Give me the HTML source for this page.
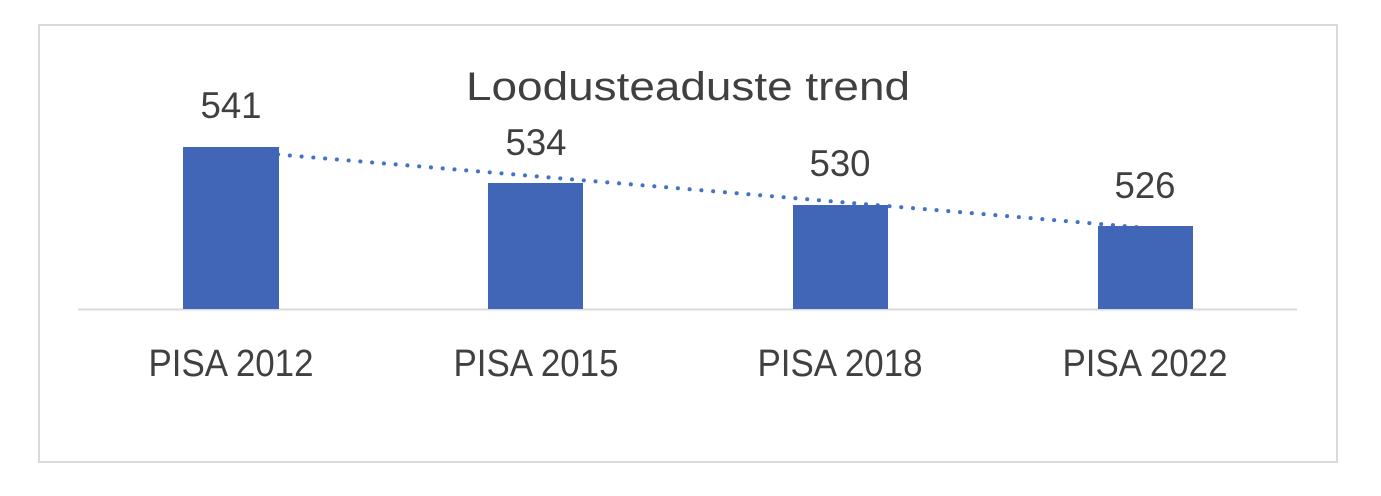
<!DOCTYPE html>
<html><head><meta charset="utf-8"><style>
html,body{margin:0;padding:0;background:#fff;}
svg{display:block;}
text{font-family:"Liberation Sans",sans-serif;fill:#404040;}
</style></head><body>
<svg width="1381" height="496" viewBox="0 0 1381 496">
<rect x="39" y="25" width="1298" height="437" fill="#fff" stroke="#d9d9d9" stroke-width="2"/>
<text x="688" y="100" font-size="40" text-anchor="middle" textLength="444" lengthAdjust="spacingAndGlyphs">Loodusteaduste trend</text>
<line x1="231" y1="150.5" x2="1145" y2="227.8" stroke="#4472c4" stroke-width="4" stroke-dasharray="0.1 11.7" stroke-linecap="round"/>
<line x1="78" y1="309.5" x2="1297" y2="309.5" stroke="#d9d9d9" stroke-width="2"/>
<g fill="#4165b7">
<rect x="183" y="147" width="96" height="162"/>
<rect x="488" y="183" width="95" height="126"/>
<rect x="793" y="205" width="95" height="104"/>
<rect x="1098" y="226" width="95" height="83"/>
</g>
<g font-size="37" text-anchor="middle">
<text x="231" y="118" textLength="61" lengthAdjust="spacingAndGlyphs">541</text>
<text x="536" y="155" textLength="61" lengthAdjust="spacingAndGlyphs">534</text>
<text x="840" y="176" textLength="61" lengthAdjust="spacingAndGlyphs">530</text>
<text x="1145" y="198" textLength="61" lengthAdjust="spacingAndGlyphs">526</text>
</g>
<g font-size="38" text-anchor="middle">
<text x="231" y="376" textLength="165" lengthAdjust="spacingAndGlyphs">PISA 2012</text>
<text x="536" y="376" textLength="165" lengthAdjust="spacingAndGlyphs">PISA 2015</text>
<text x="840" y="376" textLength="165" lengthAdjust="spacingAndGlyphs">PISA 2018</text>
<text x="1145" y="376" textLength="165" lengthAdjust="spacingAndGlyphs">PISA 2022</text>
</g>
</svg>
</body></html>
